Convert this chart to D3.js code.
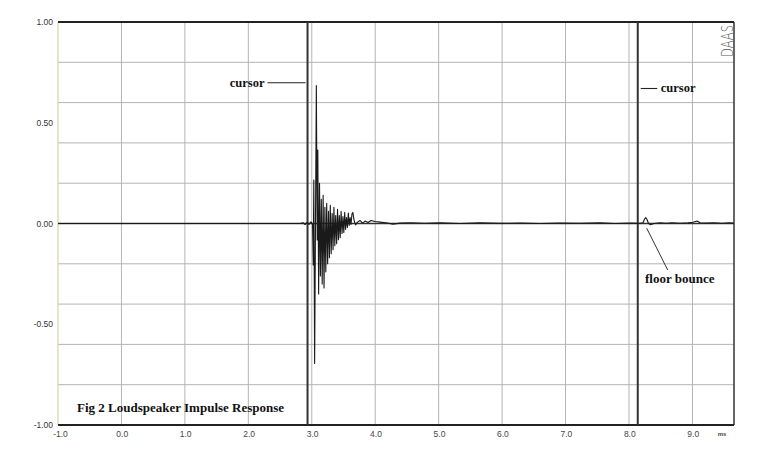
<!DOCTYPE html>
<html><head><meta charset="utf-8">
<script src="https://cdn.jsdelivr.net/npm/d3@7"></script>
<style>
html,body{margin:0;padding:0;background:#fff;}
svg{display:block;}
</style>
</head><body>
<svg id="chart" width="765" height="455"></svg>
<script>
// ---- data ----
const xTickValues = [-1, 0, 1, 2, 3, 4, 5, 6, 7, 8, 9];
const xTickLabels = ["-1.0", "0.0", "1.0", "2.0", "3.0", "4.0", "5.0", "6.0", "7.0", "8.0", "9.0"];
const yTickValues = [1, 0.5, 0, -0.5, -1];
const yTickLabels = ["1.00", "0.50", "0.00", "-0.50", "-1.00"];
const yGridValues = [-0.8, -0.6, -0.4, -0.2, 0.2, 0.4, 0.6, 0.8];
const cursorTimes = [2.933, 8.138];
const timeMs = [
  -1.0, 1.0, 2.5, 2.815, 2.862, 2.893, 2.925, 2.956, 2.987, 3.012,
  3.023, 3.032, 3.045, 3.072, 3.086, 3.095,
  3.108, 3.122, 3.136, 3.150, 3.164, 3.179, 3.193, 3.207, 3.221, 3.235,
  3.250, 3.264, 3.278, 3.292, 3.306, 3.321, 3.335, 3.349, 3.363, 3.377,
  3.392, 3.406, 3.420, 3.434, 3.448, 3.462, 3.477, 3.491, 3.505, 3.519,
  3.533, 3.547, 3.562, 3.576, 3.590, 3.604, 3.618, 3.633, 3.647,
  3.666, 3.690, 3.721, 3.760, 3.800, 3.839, 3.887, 3.934, 3.997, 4.076, 4.170,
  4.280, 4.391, 4.549, 4.785, 5.021, 5.337, 5.652, 5.967, 6.283, 6.598,
  6.913, 7.228, 7.544, 7.780, 8.016, 8.174, 8.221, 8.245, 8.264, 8.284,
  8.308, 8.339, 8.395, 8.489, 8.584, 8.678, 8.805, 8.931, 9.009, 9.072,
  9.120, 9.214, 9.340, 9.466, 9.576, 9.650
];
const amplitude = [
  0, 0, 0, 0, 0.004, -0.005, 0.006, -0.004, 0.008, -0.005,
  -0.206, 0.216, -0.695, 0.685, -0.082, 0.365,
  -0.35, 0.20, -0.26, 0.12, -0.30, 0.14, -0.32, 0.08, -0.24, 0.10,
  -0.20, 0.06, -0.17, 0.09, -0.15, 0.05, -0.13, 0.08, -0.11, 0.04,
  -0.10, 0.07, -0.08, 0.04, -0.07, 0.06, -0.05, 0.035, -0.045, 0.055,
  -0.03, 0.03, -0.02, 0.052, -0.01, 0.03, -0.005, 0.047, 0.055,
  0.017, -0.007, 0.007, 0.015, 0.002, 0.012, 0.005, 0.015, 0.010, 0.007, 0.004,
  -0.003, 0.002, 0.004, 0.001, 0.003, 0.000, 0.003, 0.001, 0.002, 0.000,
  0.002, 0.001, 0.003, 0.000, 0.002, 0.001, 0.004, 0.022, 0.029, 0.020,
  0.000, -0.006, 0.000, 0.004, 0.001, 0.004, 0.001, 0.003, 0.006, 0.012,
  0.004, 0.002, 0.004, 0.001, 0.004, 0.002
];
const titleText = "Fig 2 Loudspeaker Impulse Response";
const cursorLabel = "cursor";
const bounceLabel = "floor bounce";
const bounceTime = 8.264;
const unitLabel = "ms";
const brandLabel = "DAAS";

// ---- chart ----
const svg = d3.select("#chart");
const x = d3.scaleLinear().domain([-1, 9.655]).range([58, 734]);
const y = d3.scaleLinear().domain([-1, 1]).range([425, 22]);
const serif = "'Liberation Serif','Times New Roman',serif";
const sans = "'Liberation Sans',Arial,sans-serif";

// grid
svg.append("g").selectAll("line").data(xTickValues.filter(d => d > -1)).join("line")
  .attr("x1", d => x(d)).attr("x2", d => x(d)).attr("y1", y(1)).attr("y2", y(-1))
  .attr("stroke", "#b4b4b4").attr("stroke-width", 1);
svg.append("g").selectAll("line").data(yGridValues).join("line")
  .attr("x1", x(-1)).attr("x2", x(9.655)).attr("y1", d => y(d)).attr("y2", d => y(d))
  .attr("stroke", "#b4b4b4").attr("stroke-width", 1);

// borders
svg.append("line").attr("x1", x(-1)).attr("x2", x(-1)).attr("y1", y(1)).attr("y2", y(-1))
  .attr("stroke", "#d9d0a8").attr("stroke-width", 1.2);
svg.append("line").attr("x1", x(9.655)).attr("x2", x(9.655)).attr("y1", y(1)).attr("y2", y(-1))
  .attr("stroke", "#333").attr("stroke-width", 1.5);
svg.append("line").attr("x1", x(-1)).attr("x2", x(9.655)).attr("y1", y(1)).attr("y2", y(1))
  .attr("stroke", "#222").attr("stroke-width", 2);
svg.append("line").attr("x1", x(-1)).attr("x2", x(9.655)).attr("y1", y(-1)).attr("y2", y(-1))
  .attr("stroke", "#222").attr("stroke-width", 2);
svg.append("line").attr("x1", x(-1)).attr("x2", x(9.655)).attr("y1", y(0)).attr("y2", y(0))
  .attr("stroke", "#333").attr("stroke-width", 1.6);

// cursors
svg.append("g").selectAll("line").data(cursorTimes).join("line")
  .attr("x1", d => x(d)).attr("x2", d => x(d)).attr("y1", y(1)).attr("y2", y(-1))
  .attr("stroke", "#333").attr("stroke-width", 2);

// waveform
const pts = timeMs.map((t, i) => [t, amplitude[i]]);
svg.append("path").datum(pts)
  .attr("d", d3.line().x(d => x(d[0])).y(d => y(d[1])))
  .attr("fill", "none").attr("stroke", "#1a1a1a").attr("stroke-width", 1.1)
  .attr("stroke-linejoin", "round");

// y tick labels
svg.append("g").selectAll("text").data(yTickValues).join("text")
  .attr("x", 53).attr("y", d => y(d) + 3)
  .attr("text-anchor", "end").attr("font-family", sans).attr("font-size", 8.5)
  .attr("fill", "#333").text((d, i) => yTickLabels[i]);

// x tick labels
svg.append("g").selectAll("text").data(xTickValues).join("text")
  .attr("x", d => x(d) + (d === -1 ? 2.5 : 0.8)).attr("y", 436.5)
  .attr("text-anchor", "middle").attr("font-family", sans).attr("font-size", 8.5)
  .attr("fill", "#444").text((d, i) => xTickLabels[i]);

svg.append("text").attr("x", 722).attr("y", 436).attr("text-anchor", "middle")
  .attr("font-family", sans).attr("font-size", 6).attr("font-weight", "bold")
  .attr("fill", "#444").text(unitLabel);

// brand
svg.append("text").attr("transform", `translate(${x(9.655) - 1.5},57) rotate(-90)`)
  .attr("font-family", "'DejaVu Sans',sans-serif").attr("font-size", 15).attr("font-weight", 200)
  .attr("textLength", 32).attr("lengthAdjust", "spacingAndGlyphs")
  .attr("fill", "#555").text(brandLabel);

// cursor labels
svg.append("text").attr("x", x(cursorTimes[0]) - 43).attr("y", 86.5).attr("text-anchor", "end")
  .attr("font-family", serif).attr("font-weight", "bold").attr("font-size", 12.5)
  .attr("fill", "#111").text(cursorLabel);
svg.append("line").attr("x1", x(cursorTimes[0]) - 40).attr("x2", x(cursorTimes[0]) - 2)
  .attr("y1", 82.7).attr("y2", 82.7).attr("stroke", "#222").attr("stroke-width", 1.1);

svg.append("line").attr("x1", x(cursorTimes[1]) + 3).attr("x2", x(cursorTimes[1]) + 19.5)
  .attr("y1", 88.5).attr("y2", 88.5).attr("stroke", "#222").attr("stroke-width", 1.1);
svg.append("text").attr("x", x(cursorTimes[1]) + 23).attr("y", 92)
  .attr("font-family", serif).attr("font-weight", "bold").attr("font-size", 12.5)
  .attr("fill", "#111").text(cursorLabel);

// floor bounce annotation
svg.append("line").attr("x1", x(bounceTime) + 1).attr("y1", 228.3).attr("x2", 667.7).attr("y2", 270)
  .attr("stroke", "#333").attr("stroke-width", 1);
svg.append("text").attr("x", 645).attr("y", 282.5)
  .attr("font-family", serif).attr("font-weight", "bold").attr("font-size", 13)
  .attr("fill", "#111").text(bounceLabel);

// title
svg.append("text").attr("x", 77).attr("y", 412)
  .attr("font-family", serif).attr("font-weight", "bold").attr("font-size", 13)
  .attr("fill", "#111").text(titleText);
</script>
</body></html>
